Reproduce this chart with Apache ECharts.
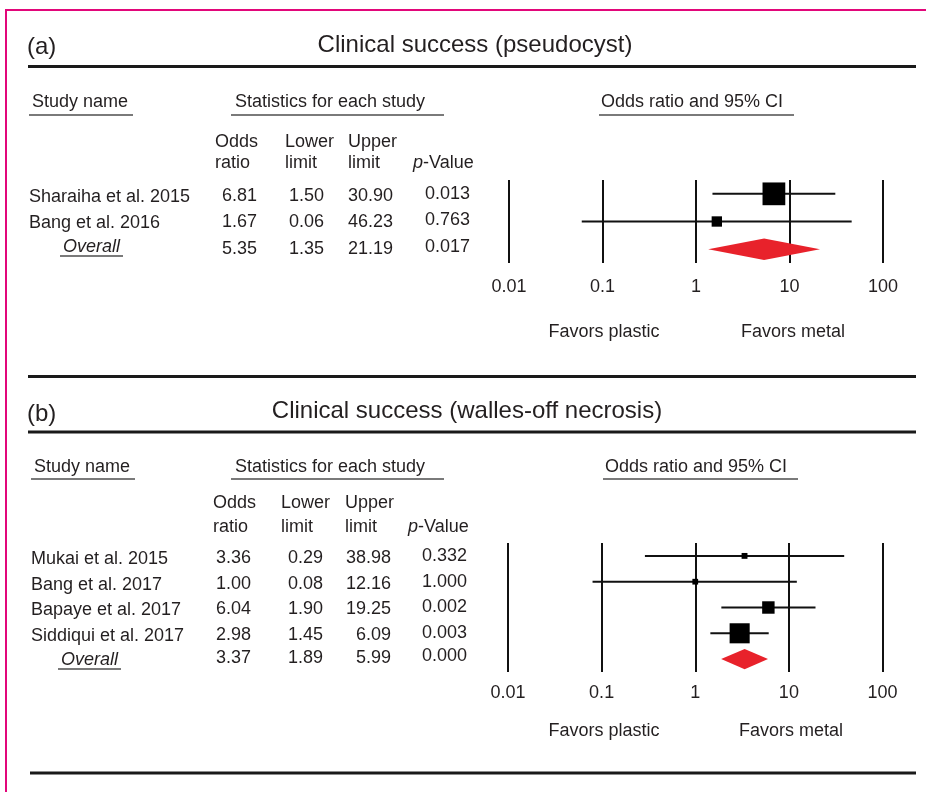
<!DOCTYPE html>
<html>
<head>
<meta charset="utf-8">
<script src="https://cdn.jsdelivr.net/npm/echarts@6/dist/echarts.min.js"></script>
<style>
  html, body { margin: 0; padding: 0; background: #ffffff; }
  #chart { width: 926px; height: 792px; }
</style>
</head>
<body>
<div id="chart"></div>
<script>
// ---- (a) Clinical success, pseudocyst ----
const studiesA = ['Sharaiha et al. 2015', 'Bang et al. 2016', 'Overall'];
const oddsA = [6.81, 1.67, 5.35];
const lowerA = [1.50, 0.06, 1.35];
const upperA = [30.90, 46.23, 21.19];
const pValueA = [0.013, 0.763, 0.017];

// ---- (b) Clinical success, walled-off necrosis ----
const studiesB = ['Mukai et al. 2015', 'Bang et al. 2017', 'Bapaye et al. 2017', 'Siddiqui et al. 2017', 'Overall'];
const oddsB = [3.36, 1.00, 6.04, 2.98, 3.37];
const lowerB = [0.29, 0.08, 1.90, 1.45, 1.89];
const upperB = [38.98, 12.16, 19.25, 6.09, 5.99];
const pValueB = [0.332, 1.000, 0.002, 0.003, 0.000];

// Odds-ratio axis ticks
const ratioTicks = [0.01, 0.1, 1, 10, 100];
const tickLabels = ['0.01', '0.1', '1', '10', '100'];

const INK = '#231f20';
const RULE = '#1a1a1a';
const UNDER = '#7a7a7a';
const DIAMOND = '#e8222b';
const FRAME = '#e2077a';
const FONT = '"Liberation Sans", Arial, Helvetica, sans-serif';

// Inverse-variance weights from the 95% CI; square area follows the weight share
function squareSides(lower, upper, n) {
  const w = [];
  for (let i = 0; i < n; i++) {
    const se = (Math.log(upper[i]) - Math.log(lower[i])) / (2 * 1.96);
    w.push(1 / (se * se));
  }
  const total = w.reduce((a, b) => a + b, 0);
  return w.map(v => 25 * Math.sqrt(v / total));
}

function buildRows(names, odds, lower, upper) {
  const nStudies = names.length - 1;
  const sides = squareSides(lower, upper, nStudies);
  return names.map((n, i) => [odds[i], lower[i], upper[i], i, i < nStudies ? sides[i] : 0, i === nStudies ? 1 : 0]);
}

function renderForest(params, api) {
  const row = api.value(3);
  const mid = api.coord([api.value(0), row]);
  const lo = api.coord([api.value(1), row]);
  const hi = api.coord([api.value(2), row]);
  const band = Math.abs(api.coord([1, 1])[1] - api.coord([1, 0])[1]);
  if (api.value(5) === 1) {
    const h = band * 0.39;
    return {
      type: 'polygon',
      shape: { points: [[lo[0], mid[1]], [mid[0], mid[1] - h], [hi[0], mid[1]], [mid[0], mid[1] + h]] },
      style: { fill: DIAMOND }
    };
  }
  const s = api.value(4);
  return {
    type: 'group',
    children: [
      { type: 'line', shape: { x1: lo[0], y1: mid[1], x2: hi[0], y2: mid[1] }, style: { stroke: '#111', lineWidth: 2 } },
      { type: 'rect', shape: { x: mid[0] - s / 2, y: mid[1] - s / 2, width: s, height: s }, style: { fill: '#000' } }
    ]
  };
}

function tickFormatter(v) {
  const i = ratioTicks.findIndex(t => Math.abs(Math.log10(t) - Math.log10(v)) < 1e-6);
  return i >= 0 ? tickLabels[i] : '';
}

function xAxisFor(gridIndex, margin) {
  return {
    type: 'log', logBase: 10, min: ratioTicks[0], max: ratioTicks[ratioTicks.length - 1],
    gridIndex: gridIndex,
    axisLine: { show: false }, axisTick: { show: false },
    splitLine: { show: true, lineStyle: { color: '#111', width: 2 } },
    axisLabel: { formatter: tickFormatter, fontSize: 18, fontFamily: FONT, color: INK, margin: margin }
  };
}
function yAxisFor(gridIndex, names) {
  return {
    type: 'category', data: names, inverse: true, gridIndex: gridIndex,
    axisLine: { show: false }, axisTick: { show: false }, axisLabel: { show: false }, splitLine: { show: false }
  };
}

// ---- graphic helpers ----
function txt(x, y, text, size, align, extra) {
  return {
    type: 'text', x: x, y: y, silent: true,
    style: Object.assign({
      text: text, fill: INK, fontSize: size, fontFamily: FONT,
      align: align || 'left', verticalAlign: 'middle',
      textAlign: align || 'left', textVerticalAlign: 'middle'
    }, extra || {})
  };
}
function hline(x1, x2, y, width, color) {
  return { type: 'line', silent: true, shape: { x1: x1, y1: y, x2: x2, y2: y }, style: { stroke: color, lineWidth: width } };
}
function vline(x, y1, y2, width, color) {
  return { type: 'line', silent: true, shape: { x1: x, y1: y1, x2: x, y2: y2 }, style: { stroke: color, lineWidth: width } };
}
function pValueHeader(x, y) {
  return txt(x, y, '{i|p}-Value', 18, 'left', {
    rich: { i: { fontStyle: 'italic', fontSize: 18, fontFamily: FONT, fill: INK } }
  });
}

// Table block for one panel
function panelText(cfg) {
  const g = [];
  g.push(txt(cfg.tagX, cfg.tagY, cfg.tag, 24));
  g.push(txt(cfg.titleX, cfg.titleY, cfg.title, 24, 'center'));
  g.push(hline(28, 916, cfg.ruleY, 3, RULE));

  g.push(txt(cfg.nameX + 3, cfg.headY, 'Study name', 18));
  g.push(hline(cfg.nameX, cfg.nameX + 104, cfg.underY, 2, UNDER));
  g.push(txt(235, cfg.headY, 'Statistics for each study', 18));
  g.push(hline(231, 444, cfg.underY, 2, UNDER));
  g.push(txt(cfg.ciX, cfg.headY, 'Odds ratio and 95% CI', 18));
  g.push(hline(cfg.ciX - 2, cfg.ciX + 193, cfg.underY, 2, UNDER));

  g.push(txt(cfg.colL[0], cfg.colY1, 'Odds', 18));
  g.push(txt(cfg.colL[0], cfg.colY2, 'ratio', 18));
  g.push(txt(cfg.colL[1], cfg.colY1, 'Lower', 18));
  g.push(txt(cfg.colL[1], cfg.colY2, 'limit', 18));
  g.push(txt(cfg.colL[2], cfg.colY1, 'Upper', 18));
  g.push(txt(cfg.colL[2], cfg.colY2, 'limit', 18));
  g.push(pValueHeader(cfg.colL[3], cfg.colY2));

  const n = cfg.names.length;
  for (let i = 0; i < n; i++) {
    const last = i === n - 1;
    const y = cfg.rowY[i];
    if (last) {
      g.push(txt(cfg.overallX, y + cfg.overallDy, cfg.names[i], 18, 'left', { fontStyle: 'italic' }));
      g.push(hline(cfg.overallX - 3, cfg.overallX + 60, y + cfg.overallDy + 9, 2, UNDER));
    } else {
      g.push(txt(cfg.nameX, y + 1, cfg.names[i], 18));
    }
    g.push(txt(cfg.colR[0], y, cfg.odds[i].toFixed(2), 18, 'right'));
    g.push(txt(cfg.colR[1], y, cfg.lower[i].toFixed(2), 18, 'right'));
    g.push(txt(cfg.colR[2], y, cfg.upper[i].toFixed(2), 18, 'right'));
    g.push(txt(cfg.colR[3], y - 2, cfg.pv[i].toFixed(3), 18, 'right'));
  }
  g.push(txt(604, cfg.favY, 'Favors plastic', 18, 'center'));
  g.push(txt(cfg.metalX, cfg.favY, 'Favors metal', 18, 'center'));
  return g;
}

const graphics = [
  // page frame
  hline(5, 926, 10, 2, FRAME),
  vline(6, 9, 792, 2, FRAME),
  // section separators
  hline(28, 916, 376.5, 3, RULE),
  hline(30, 916, 773, 3, RULE)
].concat(panelText({
  tag: '(a)', tagX: 27, tagY: 47,
  title: 'Clinical success (pseudocyst)', titleX: 475, titleY: 45, ruleY: 66.5,
  nameX: 29, headY: 102, underY: 115, ciX: 601,
  colL: [215, 285, 348, 413], colY1: 142, colY2: 163,
  colR: [257, 324, 393, 470],
  names: studiesA, odds: oddsA, lower: lowerA, upper: upperA, pv: pValueA,
  rowY: [196, 222, 249], overallX: 63, overallDy: -2,
  favY: 332, metalX: 793
})).concat(panelText({
  tag: '(b)', tagX: 27, tagY: 414,
  title: 'Clinical success (walles-off necrosis)', titleX: 467, titleY: 411, ruleY: 432,
  nameX: 31, headY: 467, underY: 479, ciX: 605,
  colL: [213, 281, 345, 408], colY1: 503, colY2: 527,
  colR: [251, 323, 391, 467],
  names: studiesB, odds: oddsB, lower: lowerB, upper: upperB, pv: pValueB,
  rowY: [558, 584, 609, 635, 658], overallX: 61, overallDy: 2,
  favY: 731, metalX: 791
}));

const chart = echarts.init(document.getElementById('chart'), null, { renderer: 'canvas' });
chart.setOption({
  animation: false,
  backgroundColor: '#ffffff',
  grid: [
    { left: 509, top: 180, width: 374, height: 83 },
    { left: 508, top: 543, width: 374.5, height: 129 }
  ],
  xAxis: [xAxisFor(0, 15), xAxisFor(1, 12)],
  yAxis: [yAxisFor(0, studiesA), yAxisFor(1, studiesB)],
  series: [
    {
      type: 'custom', xAxisIndex: 0, yAxisIndex: 0,
      renderItem: renderForest,
      encode: { x: [0, 1, 2], y: 3 },
      data: buildRows(studiesA, oddsA, lowerA, upperA)
    },
    {
      type: 'custom', xAxisIndex: 1, yAxisIndex: 1,
      renderItem: renderForest,
      encode: { x: [0, 1, 2], y: 3 },
      data: buildRows(studiesB, oddsB, lowerB, upperB)
    }
  ],
  graphic: { elements: graphics }
});
</script>
</body>
</html>
